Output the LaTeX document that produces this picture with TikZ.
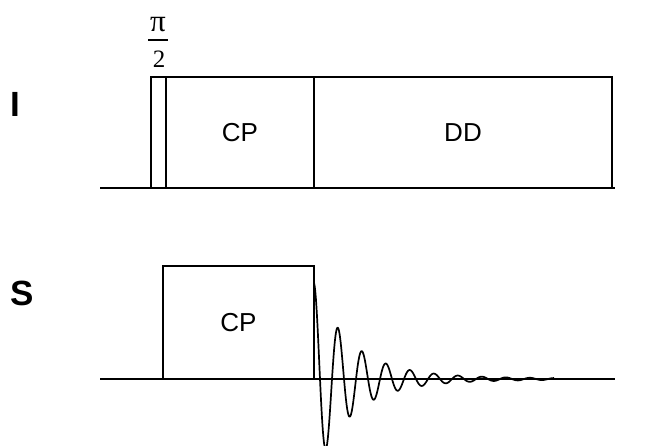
\documentclass[tikz,border=0pt]{standalone}
\usepackage{fontspec}
\setmainfont{Liberation Sans}
\newfontfamily\timesfont{Liberation Serif}
\usetikzlibrary{positioning}

\begin{document}
\begin{tikzpicture}[x=1pt,y=-1pt,
  pulsebox/.style={draw,line width=1.8pt,inner sep=0pt,outer sep=0pt,anchor=south west,font=\fontsize{26}{28}\selectfont},
  chanlabel/.style={font=\fontsize{35}{37}\selectfont\bfseries},
  fraclabel/.style={inner sep=0pt,font=\fontsize{25}{27}\selectfont\timesfont},
  axisline/.style={line width=2pt},
  fid/.style={line width=1.7pt,line join=round}
]
\useasboundingbox (0,0) rectangle (645,445);
% channel I
\coordinate (iL) at (100,188);
\coordinate (iR) at (615,188);
\node[pulsebox,minimum width=15pt,minimum height=111pt] (p90) at (151,188) {};
\node[pulsebox,minimum width=148pt,minimum height=111pt] (cpI) at (166,188) {CP};
\node[pulsebox,minimum width=298pt,minimum height=111pt] (dd) at (314,188) {DD};
\draw[axisline] (iL) -- (iR);
\node[fraclabel,font=\fontsize{31}{33}\selectfont\timesfont] (p90num) at (158,24.5) {π};
\node[fraclabel] (p90den) at (159,59.5) {2};
\coordinate (barL) at (148,40);
\coordinate (barR) at (168,40);
\draw[line width=1.5pt] (barL) -- (barR);
\node[chanlabel] (labI) at (15.5,104.5) {I};
% channel S
\coordinate (sL) at (100,379);
\coordinate (sR) at (615,379);
\node[pulsebox,minimum width=151pt,minimum height=113pt] (cpS) at (163,379) {CP};
\draw[axisline] (sL) -- (sR);
\node[chanlabel] (labS) at (22,293.5) {S};
% free induction decay
\draw[fid] plot[domain=0:240,samples=480,smooth]
  ({314+\x},{379-(90*exp(-\x/36)+6*exp(-\x/120))*cos(15*\x)});
\end{tikzpicture}
\end{document}
